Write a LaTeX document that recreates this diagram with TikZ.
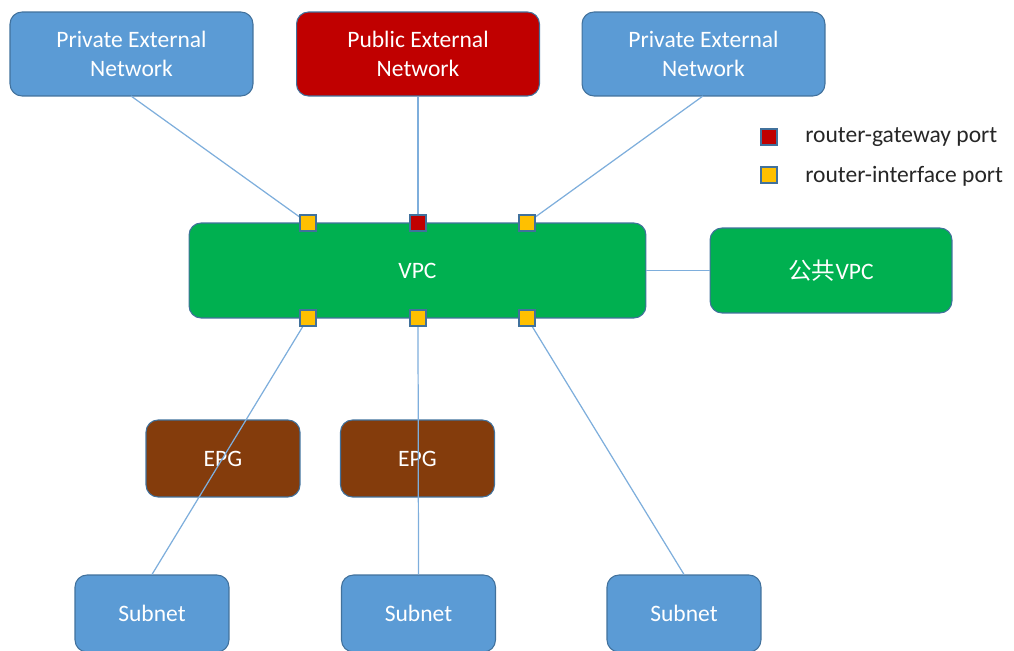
\documentclass[tikz,border=0pt]{standalone}
\usepackage{fontspec}
\setmainfont{Carlito}
\newfontfamily\cjk{Noto Sans CJK SC}
\definecolor{netblue}{HTML}{5B9BD5}
\definecolor{edgeblue}{HTML}{41719C}
\definecolor{linkblue}{HTML}{7EAEDC}
\definecolor{gwred}{HTML}{C00000}
\definecolor{vpcgreen}{HTML}{00B050}
\definecolor{epgbrown}{HTML}{843C0C}
\definecolor{portyellow}{HTML}{FFC000}
\definecolor{legendtext}{HTML}{262626}
\begin{document}
\begin{tikzpicture}[x=0.02cm,y=-0.02cm,
  box/.style={rounded corners=0.24cm, draw=edgeblue, line width=0.6pt,
    text=white, align=center, inner sep=0pt,
    font=\fontsize{13.4}{16.4}\selectfont},
  extnet/.style={box, minimum width=4.86cm, minimum height=1.68cm},
  small/.style={box, minimum width=3.08cm, minimum height=1.54cm},
  port/.style={draw=edgeblue, line width=0.6pt, minimum size=0.32cm, inner sep=0pt},
  link/.style={draw=linkblue, line width=0.7pt},
  legend/.style={anchor=west, text=legendtext, inner sep=0pt,
    font=\fontsize{13.4}{16}\selectfont}]
\useasboundingbox (0,0) rectangle (1014,651);
\clip (0,0) rectangle (1014,651);

% external networks
\node[extnet, fill=netblue] (pen1) at (131.5,54) {Private External\\Network};
\node[extnet, fill=gwred] (pub) at (418,54) {Public External\\Network};
\node[extnet, fill=netblue] (pen2) at (703.5,54) {Private External\\Network};

% router and shared VPC
\node[box, fill=vpcgreen, minimum width=9.14cm, minimum height=1.9cm] (vpc) at (417.5,270.5) {VPC};
\node[box, fill=vpcgreen, minimum width=4.84cm, minimum height=1.7cm] (pvpc) at (831,270.5) {{\cjk 公共}VPC};

% endpoint groups and subnets
\node[small, fill=epgbrown] (epg1) at (223,458.5) {EPG};
\node[small, fill=epgbrown] (epg2) at (417.5,458.5) {EPG};
\node[small, fill=netblue] (sub1) at (152,613.5) {Subnet};
\node[small, fill=netblue] (sub2) at (418.5,613.5) {Subnet};
\node[small, fill=netblue] (sub3) at (684,613.5) {Subnet};

% ports on the router
\coordinate (pt1) at (308,223);
\coordinate (pt2) at (418,223);
\coordinate (pt3) at (527,223);
\coordinate (pb1) at (308,318);
\coordinate (pb2) at (418,318);
\coordinate (pb3) at (527,318);

% links
\draw[link] (131,96) -- (pt1);
\draw[link] (pub.south) -- (pt2);
\draw[link] (703,96) -- (pt3);
\draw[link] (vpc.east) -- (pvpc.west);
\draw[link] (pb1) -- (sub1.north);
\draw[link] (pb2) -- (sub2.north);
\draw[link] (pb3) -- (sub3.north);

\node[port, fill=portyellow] (p1) at (pt1) {};
\node[port, fill=gwred] (p2) at (pt2) {};
\node[port, fill=portyellow] (p3) at (pt3) {};
\node[port, fill=portyellow] (p4) at (pb1) {};
\node[port, fill=portyellow] (p5) at (pb2) {};
\node[port, fill=portyellow] (p6) at (pb3) {};

% legend
\node[port, fill=gwred] (lg) at (769,137) {};
\node[legend] (lgt) at (805,137) {router-gateway port};
\node[port, fill=portyellow] (li) at (769,175) {};
\node[legend] (lit) at (805,176) {router-interface port};
\end{tikzpicture}
\end{document}
